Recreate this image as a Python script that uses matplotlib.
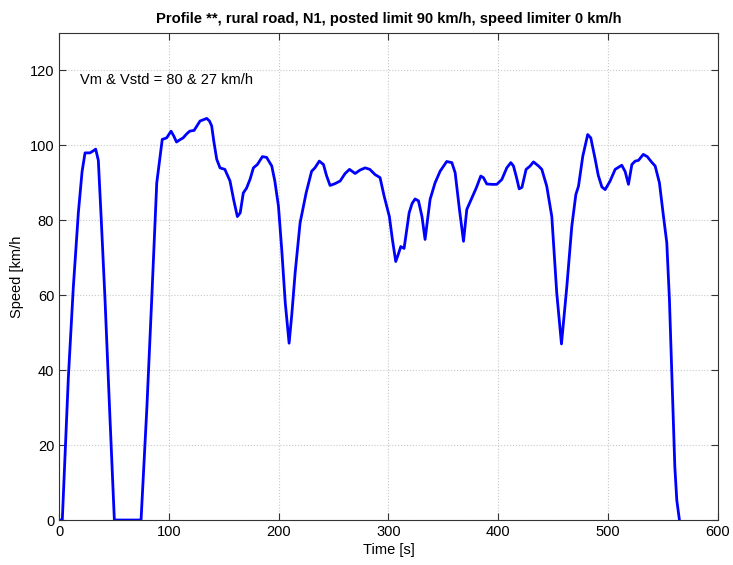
import matplotlib
matplotlib.use("Agg")
import matplotlib.pyplot as plt

plt.rcParams['font.family'] = ['Liberation Sans', 'DejaVu Sans']

time_s = [0, 3, 8.5, 13, 17.6, 21, 23.7, 28.2, 31, 33.4, 35.8, 38.5, 41.9, 46, 50.4,
          74.7, 80, 84.4, 89, 94, 98, 102, 104.5, 107, 110, 113, 116, 119, 123, 128.4,
          134.5, 137, 139, 141, 143.6, 146.6, 151, 155.7, 159, 162.4, 165, 167.8, 170.8,
          174, 177, 180.6, 185.2, 189, 193.7, 196.5, 199.8, 202.8, 206, 209.5, 212, 215,
          219.5, 225, 230, 233, 237, 240.8, 243.5, 246.8, 251.4, 256, 260.5, 264.5, 269.6,
          274, 278.7, 283, 287.8, 292.3, 296, 300.8, 303.5, 306.6, 309, 311.2, 314.2,
          318.8, 321.5, 324.2, 327.3, 330.5, 333.3, 337.9, 342.4, 347, 353, 357.7, 360.7,
          364.6, 368.3, 371.3, 375.9, 380, 384, 386.4, 389.5, 394, 398.6, 403.2, 407.7,
          411.4, 413.8, 416.5, 419, 421.5, 425.3, 429, 432, 436.6, 439.6, 444.1, 448.7,
          453.2, 457.5, 462.4, 466.9, 470.6, 473, 476.9, 481.4, 484.2, 488.2, 491, 494.3,
          497.3, 501.8, 506.4, 512.4, 515.5, 518.5, 521.6, 524.6, 527.6, 532, 535.6,
          539.7, 542.8, 546.7, 550.4, 553.4, 555.8, 558.3, 560.7, 562.5, 564.9]
speed_kmh = [0, 0, 38, 62, 82, 93, 98, 98, 98.5, 99, 96, 80, 58.8, 30, 0,
             0, 30, 58.8, 90, 101.6, 102, 103.8, 102.5, 100.9, 101.5, 102, 103, 103.8, 104, 106.5,
             107.2, 106.5, 105.2, 101, 96.3, 94, 93.6, 90.5, 85.5, 81, 82, 87.3, 88.6,
             91, 94, 94.9, 97, 96.8, 94.5, 90.5, 83.8, 72.2, 58, 47.2, 55, 66,
             79.3, 87.3, 93.1, 94, 95.8, 94.9, 92, 89.3, 89.8, 90.5, 92.5, 93.6, 92.5,
             93.4, 94, 93.6, 92.2, 91.4, 86.5, 81, 75, 69, 71, 73, 72.5,
             82, 84.5, 85.7, 85.2, 81, 74.9, 85.6, 90, 93.1, 95.7, 95.4, 92.7,
             82.9, 74.4, 82.9, 86, 88.7, 91.8, 91.4, 89.7, 89.6, 89.6, 90.9, 94,
             95.4, 94.5, 91.5, 88.4, 88.8, 93.6, 94.5, 95.6, 94.5, 93.6, 89.1, 81,
             60.6, 47, 62.4, 78.4, 86.9, 89.1, 97.1, 102.9, 102, 96.3, 92, 88.9,
             88.2, 90.5, 93.6, 94.7, 93, 89.6, 94.9, 95.8, 96, 97.6, 97,
             95.5, 94.5, 90, 81, 74, 58.8, 36.5, 14.3, 5.3, 0]

x_ticks = [0, 100, 200, 300, 400, 500, 600]
y_ticks = [0, 20, 40, 60, 80, 100, 120]
title = "Profile **, rural road, N1, posted limit 90 km/h, speed limiter 0 km/h"
annotation = "Vm & Vstd = 80 & 27 km/h"

fig = plt.figure(figsize=(7.33, 5.65), dpi=100)
ax = fig.add_axes([0.0805, 0.0796, 0.899, 0.862])
ax.plot(time_s, speed_kmh, color='#0000ff', linewidth=2.0, solid_joinstyle='round')
ax.set_xlim(0, 600)
ax.set_ylim(0, 130)
ax.set_xticks(x_ticks)
ax.set_yticks(y_ticks)
ax.grid(True, linestyle=':', color='#c8c8c8', linewidth=0.8)
ax.tick_params(direction='in', top=True, right=True, labelsize=10.5, length=5, color='#333333')
for s in ax.spines.values():
    s.set_color('#333333')
    s.set_linewidth(0.8)
ax.set_xlabel("Time [s]", fontsize=10.5, labelpad=3)
ax.set_ylabel("Speed [km/h", fontsize=10.5, labelpad=4)
ax.set_title(title, fontsize=10.6, fontweight='bold', pad=7)
ax.text(19, 117.5, annotation, fontsize=10.5, ha='left', va='center')
fig.savefig("out.png", dpi=100)
